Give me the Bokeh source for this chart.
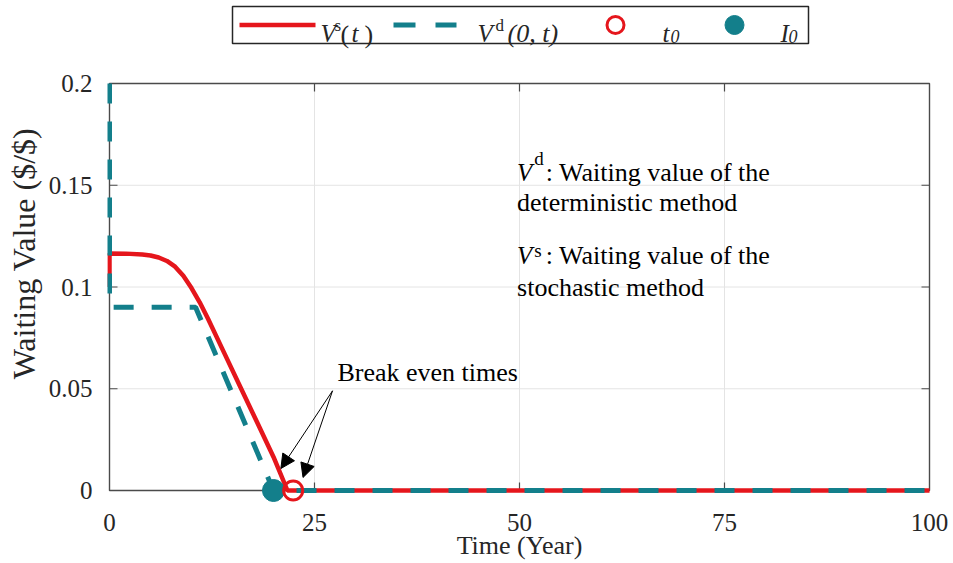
from bokeh.plotting import figure
from bokeh.models import Arrow, NormalHead, FixedTicker
from bokeh.core.properties import value
from bokeh.embed import file_html
from bokeh.resources import INLINE

# ---- data ----
t_s = [0, 0, 2, 4, 5, 6, 7, 8, 9, 10, 11, 12, 14, 16, 18, 20, 21.7, 22.4, 100]
v_s = [0.100, 0.1165, 0.1164, 0.1160, 0.1155, 0.1145, 0.1128, 0.1100, 0.1055, 0.0995,
       0.0925, 0.0845, 0.0675, 0.0505, 0.0335, 0.0165, 0.0, 0.0, 0.0]
t_d = [0, 0, 10.5, 20, 100]
v_d = [0.2, 0.09, 0.09, 0.0, 0.0]
t0_x, t0_y = [22.4], [0.0]
I0_x, I0_y = [20.0], [0.0]

x_ticks = [0, 25, 50, 75, 100]
x_tick_labels = ["0", "25", "50", "75", "100"]
y_ticks = [0, 0.05, 0.1, 0.15, 0.2]
y_tick_labels = ["0", "0.05", "0.1", "0.15", "0.2"]

RED = "#E5161C"
TEAL = "#137F8B"
BOX = "#4A4A4A"
GRID = "#E4E4E4"
SERIF = "Liberation Serif"

x0, x1 = x_ticks[0], x_ticks[-1]
y0, y1 = y_ticks[0], y_ticks[-1]
px_x = 8.2      # screen px per x unit
px_y = 2035.0   # screen px per y unit
ORG_X, ORG_Y = 109, 490   # screen position of (0, 0)


def X(sx):
    return (sx - ORG_X) / px_x


def Y(sy):
    return (ORG_Y - sy) / px_y


p = figure(width=953, height=563,
           x_range=(x0 - 2 / px_x, x1 + 2 / px_x),
           y_range=(y0 - 16 / px_y, y1 + 83 / px_y),
           output_backend="svg", toolbar_location=None,
           min_border_left=107, min_border_right=22, min_border_top=0, min_border_bottom=57,
           background_fill_color="white", border_fill_color="white")

p.outline_line_color = None
p.xgrid.visible = False
p.ygrid.visible = False

for ax in (p.xaxis[0], p.yaxis[0]):
    ax.axis_line_color = None
    ax.major_tick_line_color = None
    ax.minor_tick_line_color = None
    ax.major_label_text_font = SERIF
    ax.major_label_text_font_size = "25px"
    ax.major_label_text_color = "#262626"
    ax.axis_label_text_font = SERIF
    ax.axis_label_text_font_style = "normal"
    ax.axis_label_text_color = "#262626"

p.xaxis.ticker = FixedTicker(ticks=x_ticks)
p.yaxis.ticker = FixedTicker(ticks=y_ticks)
p.xaxis.bounds = (x0, x1)
p.yaxis.bounds = (y0, y1)
p.xaxis.major_label_overrides = dict(zip(x_ticks, x_tick_labels))
p.yaxis.major_label_overrides = dict(zip(y_ticks, y_tick_labels))
p.xaxis.axis_label = "Time (Year)"
p.yaxis.axis_label = "Waiting Value ($/$)"
p.xaxis.axis_label_text_font_size = "26px"
p.yaxis.axis_label_text_font_size = "32px"
p.xaxis.major_label_standoff = 1
p.xaxis.axis_label_standoff = -3
p.yaxis.major_label_standoff = 9
p.yaxis.axis_label_standoff = 4

# grid lines (at the inner ticks)
gx = x_ticks[1:-1]
gy = y_ticks[1:-1]
p.segment(x0=gx, y0=[y0] * len(gx), x1=gx, y1=[y1] * len(gx), line_color=GRID, line_width=1)
p.segment(x0=[x0] * len(gy), y0=gy, x1=[x1] * len(gy), y1=gy, line_color=GRID, line_width=1)

# inward ticks on all four sides
tl_x = 8 / px_x
tl_y = 8 / px_y
p.segment(x0=gx, y0=[y0] * len(gx), x1=gx, y1=[y0 + tl_y] * len(gx), line_color=BOX, line_width=1.2)
p.segment(x0=gx, y0=[y1] * len(gx), x1=gx, y1=[y1 - tl_y] * len(gx), line_color=BOX, line_width=1.2)
p.segment(x0=[x0] * len(gy), y0=gy, x1=[x0 + tl_x] * len(gy), y1=gy, line_color=BOX, line_width=1.2)
p.segment(x0=[x1] * len(gy), y0=gy, x1=[x1 - tl_x] * len(gy), y1=gy, line_color=BOX, line_width=1.2)

# axes box
p.quad(left=[x0], right=[x1], bottom=[y0], top=[y1], fill_color=None, line_color=BOX, line_width=1.4)

# data
p.line(t_s, v_s, line_color=RED, line_width=4.5)
p.line(t_d, v_d, line_color=TEAL, line_width=5, line_dash="20 18")
p.scatter(I0_x, I0_y, marker="circle", size=22, fill_color=TEAL, line_color=TEAL)
p.scatter(t0_x, t0_y, marker="circle", size=19, fill_color=None, line_color=RED, line_width=3)

# annotations
p.text(x=[27.8], y=[0.0580], text=["Break even times"], text_font=value(SERIF),
       text_font_size="26px", text_color="black", text_baseline="alphabetic", text_align="left")
head = dict(size=14, fill_color="black", line_color="black")
p.add_layout(Arrow(end=NormalHead(**head), x_start=27.2, y_start=0.049, x_end=20.9, y_end=0.0108,
                   line_color="black", line_width=1))
p.add_layout(Arrow(end=NormalHead(**head), x_start=27.2, y_start=0.049, x_end=23.6, y_end=0.0064,
                   line_color="black", line_width=1))

txt = dict(text_font=value(SERIF), text_color="black", text_baseline="alphabetic", text_align="left")
p.text(x=[49.7, 49.7], y=[0.1563, 0.1155], text=["V", "V"], text_font_size="25px",
       text_font_style="italic", **txt)
p.text(x=[51.8], y=[0.1631], text=["d"], text_font_size="19px", **txt)
p.text(x=[51.8], y=[0.1179], text=["s"], text_font_size="19px", **txt)
p.text(x=[53.2, 53.2], y=[0.1563, 0.1155], text=[": Waiting value of the", ": Waiting value of the"],
       text_font_size="26px", **txt)
p.text(x=[49.7, 49.7], y=[0.1415, 0.0998], text=["deterministic method", "stochastic method"],
       text_font_size="26px", **txt)

# ---- legend (drawn in the area above the axes) ----
LC = "#262626"
p.quad(left=[X(232)], right=[X(808)], top=[Y(6)], bottom=[Y(43)],
       fill_color="white", line_color=LC, line_width=1.5)
ly = Y(24.5)
p.line([X(239), X(315)], [ly, ly], line_color=RED, line_width=4.5)
p.line([X(393), X(456)], [ly, ly], line_color=TEAL, line_width=5, line_dash="22 20")
p.scatter([X(615)], [ly], marker="circle", size=17, fill_color=None, line_color=RED, line_width=3)
p.scatter([X(734)], [ly], marker="circle", size=19, fill_color=TEAL, line_color=TEAL)

lt = dict(text_font=value(SERIF), text_color=LC, text_baseline="alphabetic", text_align="left")
base = Y(33)
p.text(x=[X(320), X(351), X(477), X(662), X(780)], y=[base] * 5, text=["V", "t", "V", "t", "I"],
       text_font_size="25px", text_font_style="italic", **lt)
p.text(x=[X(334)], y=[Y(25)], text=["s"], text_font_size="17px", **lt)
p.text(x=[X(495)], y=[Y(25)], text=["d"], text_font_size="17px", **lt)
p.text(x=[X(340), X(364)], y=[Y(34), Y(34)], text=["(", ")"], text_font_size="26px", **lt)
p.text(x=[X(507)], y=[base], text=["(0, t)"], text_font_size="26px", text_font_style="italic", **lt)
p.text(x=[X(670), X(788)], y=[Y(36), Y(36)], text=["0", "0"], text_font_size="18px",
       text_font_style="italic", **lt)

open("out.html", "w").write(file_html(p, INLINE))
